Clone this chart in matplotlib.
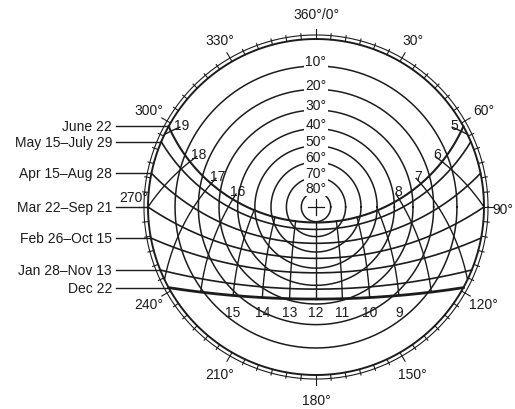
import numpy as np
import matplotlib
matplotlib.use("Agg")
import matplotlib.pyplot as plt

plt.rcParams["font.family"] = ["Liberation Sans", "DejaVu Sans"]

# Site latitude (degrees north) for the sun paths
latitude = 34.0

# Altitude circles (degrees above horizon)
altitude_rings = [10, 20, 30, 40, 50, 60, 70, 80]

# Sun-path dates and their solar declinations (degrees)
date_labels = ["June 22", "May 15\u2013July 29", "Apr 15\u2013Aug 28",
               "Mar 22\u2013Sep 21", "Feb 26\u2013Oct 15", "Jan 28\u2013Nov 13",
               "Dec 22"]
declinations = [23.45, 18.8, 9.6, 0.0, -8.8, -18.1, -23.45]

# Solar-time hour lines
hours = [5, 6, 7, 8, 9, 10, 11, 12, 13, 14, 15, 16, 17, 18, 19]

# Labelled azimuths around the rim
azimuth_labels = [0, 30, 60, 90, 120, 150, 180, 210, 240, 270, 300, 330]

INK = "#1c1c1c"
W, H = 515, 410
PX = 168.0             # pixels per unit radius (horizon circle)
CX, CY = 316.0, 208.0  # zenith position in pixels


def project(alt, az):
    """Stereographic sky projection, north up, east to the right."""
    r = np.tan(np.radians(90.0 - alt) / 2.0)
    a = np.radians(az)
    return r * np.sin(a), r * np.cos(a)


def sun(dec, hour_angle):
    phi, d, h = np.radians(latitude), np.radians(dec), np.radians(hour_angle)
    s = np.sin(phi) * np.sin(d) + np.cos(phi) * np.cos(d) * np.cos(h)
    alt = np.degrees(np.arcsin(np.clip(s, -1, 1)))
    az = np.degrees(np.arctan2(-np.cos(d) * np.sin(h),
                               np.sin(d) * np.cos(phi) - np.cos(d) * np.cos(h) * np.sin(phi)))
    return alt, az % 360


fig = plt.figure(figsize=(W / 100, H / 100), dpi=100)
ax = fig.add_axes([0, 0, 1, 1])
ax.set_xlim(-CX / PX, (W - CX) / PX)
ax.set_ylim(-(H - CY) / PX, CY / PX)
ax.axis("off")

t = np.linspace(0, 2 * np.pi, 721)

# rim: horizon circle, outer ring and azimuth ticks
ax.plot(np.cos(t), np.sin(t), color=INK, lw=1.4)
ax.plot(1.024 * np.cos(t), 1.024 * np.sin(t), color=INK, lw=0.8)
for az in range(0, 360, 5):
    a = np.radians(az)
    r1 = 1.06 if az % 30 == 0 else 1.035
    ax.plot([np.sin(a), r1 * np.sin(a)], [np.cos(a), r1 * np.cos(a)],
            color=INK, lw=0.8)

for az in azimuth_labels:
    a = np.radians(az)
    txt = "360\u00b0/0\u00b0" if az == 0 else f"{az}\u00b0"
    if az == 90:
        ax.text((W - 1.5 - CX) / PX, -0.01, txt, ha="right", va="center",
                fontsize=10, color=INK)
    elif az == 270:
        ax.text(-1.0, 0.015, txt, ha="right", va="bottom", fontsize=10, color=INK)
    else:
        ax.text(1.15 * np.sin(a), 1.15 * np.cos(a), txt, ha="center",
                va="center", fontsize=10, color=INK)

# altitude circles
for alt in altitude_rings:
    r = np.tan(np.radians(90 - alt) / 2)
    ax.plot(r * np.cos(t), r * np.sin(t), color=INK, lw=1.1, zorder=2)

# sun paths
phi = np.radians(latitude)
for lab, dec in zip(date_labels, declinations):
    h0 = np.degrees(np.arccos(-np.tan(phi) * np.tan(np.radians(dec))))
    hh = np.linspace(-h0, h0, 500)
    alt, az = sun(dec, hh)
    x, y = project(np.maximum(alt, 0), az)
    lw = 2.0 if dec < -23 else (1.5 if dec > 23 else 1.2)
    ax.plot(x, y, color=INK, lw=lw, zorder=3)
    # leader and date label on the west side
    ye = y[-1]
    ax.plot([-1.19, x[-1]], [ye, ye], color=INK, lw=1.0)
    ax.text(-1.215, ye, lab, ha="right", va="center", fontsize=10, color=INK)

# hour lines
dec_low, dec_high = min(declinations), max(declinations)
_, y_noon = project(*sun(dec_low, 0.0))
for h in hours:
    ha_deg = 15.0 * (h - 12)
    top = dec_high + (3.5 if abs(ha_deg) >= 60 else 0.0)
    dd = np.linspace(dec_low, top, 300)
    alt, az = sun(dd, ha_deg)
    keep = alt >= 0
    x, y = project(alt[keep], az[keep])
    ax.plot(x, y, color=INK, lw=1.0, zorder=3)
    if abs(ha_deg) < 60:
        ax.text(x[0], y_noon - 0.075, str(h), ha="center", va="center",
                fontsize=10, color=INK, zorder=5)
    else:
        west = ha_deg > 0
        ax.text(x[-1] + (-0.035 if west else 0.035), y[-1] + 0.015, str(h),
                ha="left" if west else "right", va="center",
                fontsize=10, color=INK, zorder=5)

# altitude labels along the north meridian
for alt in altitude_rings:
    r = np.tan(np.radians(90 - alt) / 2)
    ax.text(0, r + 0.027, f"{alt}\u00b0", ha="center", va="center", fontsize=10,
            color=INK, zorder=6,
            bbox=dict(boxstyle="square,pad=0.08", fc="white", ec="none"))

# zenith cross
c = 0.05
ax.plot([-c, c], [0, 0], color=INK, lw=0.9)
ax.plot([0, 0], [-c, c], color=INK, lw=0.9)

fig.savefig("out.png", dpi=100, facecolor="white")
